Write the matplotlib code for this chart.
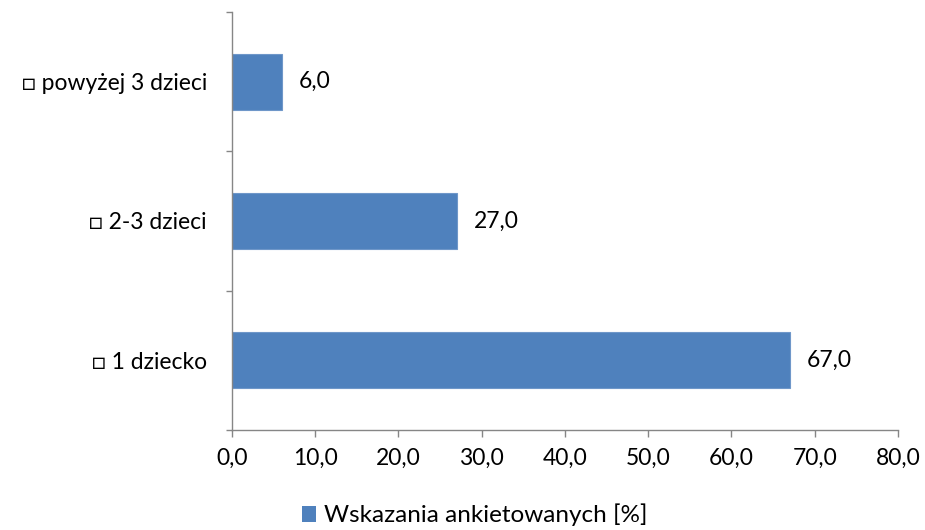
import matplotlib
matplotlib.use('Agg')
import matplotlib.pyplot as plt
from matplotlib.patches import Patch

categories = ['□ 1 dziecko', '□ 2-3 dzieci', '□ powyżej 3 dzieci']
values = [67.0, 27.0, 6.0]
series_name = 'Wskazania ankietowanych [%]'
x_ticks = [0, 10, 20, 30, 40, 50, 60, 70, 80]

plt.rcParams['font.family'] = ['Lato', 'DejaVu Sans']
bar_color = '#4F81BD'
axis_color = '#868686'
fs = 16.5

fig = plt.figure(figsize=(9.25, 5.3), dpi=100)
ax = fig.add_axes([0.2508, 0.1887, 0.72, 0.7887])

pos = list(range(len(categories)))
ax.barh(pos, values, height=0.4, color=bar_color, edgecolor='#6f97c9', linewidth=0.8)
for p, v in zip(pos, values):
    ax.text(v + 2.0, p, f'{v:.1f}'.replace('.', ','), va='center', ha='left', fontsize=fs)

ax.set_xlim(0, 80)
ax.set_ylim(-0.5, len(categories) - 0.5)
ax.set_xticks(x_ticks)
ax.set_xticklabels([f'{t:.1f}'.replace('.', ',') for t in x_ticks], fontsize=fs)
ax.set_yticks(pos)
ax.set_yticklabels(categories, fontsize=fs)
ax.tick_params(axis='y', length=0, pad=18)
ax.set_yticks([-0.5, 0.5, 1.5, 2.5], minor=True)
ax.tick_params(axis='y', which='minor', length=4.5, color=axis_color, width=1)
ax.tick_params(axis='x', length=5, color=axis_color, width=1, pad=8)

for s in ['top', 'right']:
    ax.spines[s].set_visible(False)
for s in ['left', 'bottom']:
    ax.spines[s].set_color(axis_color)
    ax.spines[s].set_linewidth(1)

handles = [Patch(facecolor=bar_color, label=series_name)]
fig.legend(handles=handles, loc='center', bbox_to_anchor=(0.513, 0.028), frameon=False,
           fontsize=17.5, handlelength=0.6, handleheight=0.6, handletextpad=0.3,
           borderpad=0.1)

fig.savefig('out.png', dpi=100)
